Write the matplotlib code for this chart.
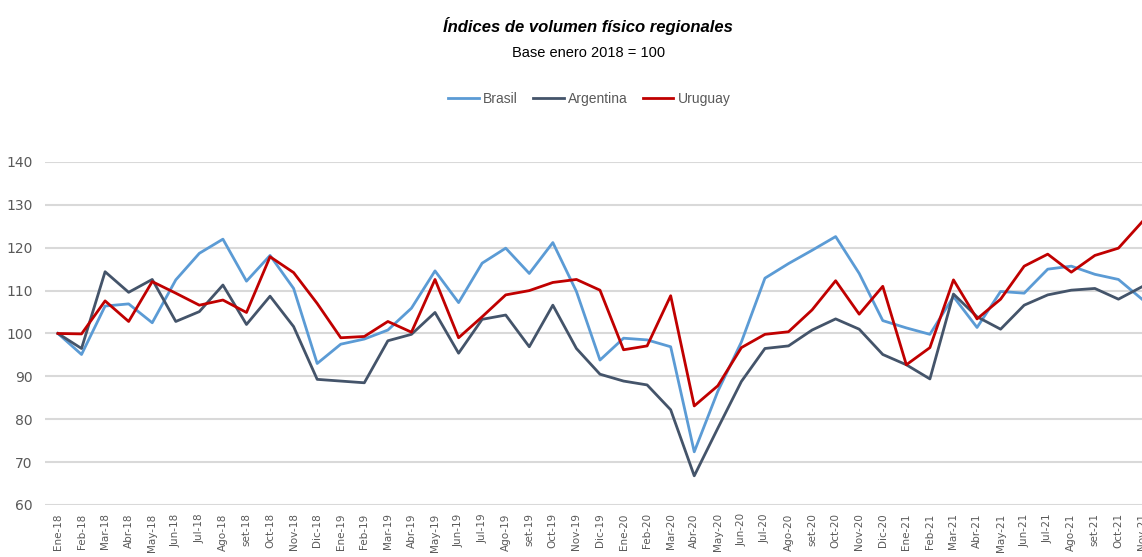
# Regional physical volume indices (base January 2018 = 100)
# Line chart comparing Brasil, Argentina and Uruguay month by month.

import matplotlib.pyplot as plt

# Month labels
months = ['Ene-18', 'Feb-18', 'Mar-18', 'Abr-18', 'May-18', 'Jun-18', 'Jul-18', 'Ago-18', 'set-18', 'Oct-18', 'Nov-18', 'Dic-18',
          'Ene-19', 'Feb-19', 'Mar-19', 'Abr-19', 'May-19', 'Jun-19', 'Jul-19', 'Ago-19', 'set-19', 'Oct-19', 'Nov-19', 'Dic-19',
          'Ene-20', 'Feb-20', 'Mar-20', 'Abr-20', 'May-20', 'Jun-20', 'Jul-20', 'Ago-20', 'set-20', 'Oct-20', 'Nov-20', 'Dic-20',
          'Ene-21', 'Feb-21', 'Mar-21', 'Abr-21', 'May-21', 'Jun-21', 'Jul-21', 'Ago-21', 'set-21', 'Oct-21', 'Nov-21']

# Index values
brasil = [100, 95.1, 106.4, 106.9, 102.5, 112.5, 118.7, 122, 112.2, 118.2, 110.5, 93,
          97.5, 98.7, 100.8, 105.9, 114.6, 107.2, 116.4, 119.9, 114, 121.2, 109.8, 93.8,
          98.9, 98.5, 96.9, 72.4, 86.5, 98, 112.9, 116.3, 119.4, 122.6, 114, 103,
          101.3, 99.8, 108.6, 101.4, 109.8, 109.4, 115, 115.7, 113.8, 112.6, 108]
argentina = [100, 96.5, 114.4, 109.6, 112.6, 102.8, 105.1, 111.3, 102.1, 108.7, 101.6, 89.3,
             88.9, 88.5, 98.3, 99.8, 104.9, 95.4, 103.3, 104.3, 96.9, 106.6, 96.5, 90.5,
             88.9, 88, 82.2, 66.8, 77.9, 88.8, 96.5, 97.1, 100.8, 103.4, 101, 95.1,
             92.7, 89.4, 109.2, 103.9, 101, 106.6, 109, 110.1, 110.5, 108, 110.9]
uruguay = [100, 99.9, 107.6, 102.8, 112.1, 109.4, 106.6, 107.8, 104.9, 117.9, 114.2, 107,
           99, 99.3, 102.8, 100.3, 112.6, 99, 103.9, 109, 110, 111.9, 112.6, 110.1,
           96.2, 97.1, 108.8, 83.1, 87.8, 96.7, 99.8, 100.4, 105.5, 112.3, 104.5, 111,
           92.7, 96.7, 112.5, 103.4, 108, 115.7, 118.5, 114.3, 118.2, 119.9, 126]

gray = '#595959'
sans = ['Liberation Sans', 'DejaVu Sans']

fig = plt.figure(figsize=(11.42, 5.57), dpi=100)
ax = fig.add_axes([0.0394, 0.0934, 0.9606, 0.6158])

x = range(len(months))
ax.plot(x, brasil, color='#5B9BD5', linewidth=2.0, label='Brasil')
ax.plot(x, argentina, color='#44546A', linewidth=2.0, label='Argentina')
ax.plot(x, uruguay, color='#C00000', linewidth=2.0, label='Uruguay')

# Axes, ticks and grid
ax.set_xlim(-0.55, 46.0)
ax.set_ylim(60, 140)
ax.set_yticks(range(60, 141, 10))
ax.set_xticks(list(x))
ax.set_xticklabels(months, rotation=90, fontsize=7.5, color=gray)
ax.tick_params(axis='y', labelsize=10, labelcolor=gray, length=0, pad=9)
ax.tick_params(axis='x', length=0, pad=6)
ax.grid(axis='y', color='#d9d9d9', linewidth=1.5)
ax.set_axisbelow(True)
for s in ax.spines.values():
    s.set_visible(False)
ax.patch.set_alpha(0)

# Titles and legend
fig.text(0.515, 0.953, 'Índices de volumen físico regionales', ha='center', va='center',
         fontsize=12, fontweight='bold', fontstyle='italic', family=sans, color='black')
fig.text(0.515, 0.904, 'Base enero 2018 = 100', ha='center', va='center',
         fontsize=10.5, family=sans, color='black')
fig.legend(loc='center', bbox_to_anchor=(0.516, 0.822), ncol=3, frameon=False,
           prop={'family': sans, 'size': 10}, labelcolor=gray,
           handlelength=2.2, handletextpad=0.3, columnspacing=1.1)

plt.savefig('out.png', dpi=100)
